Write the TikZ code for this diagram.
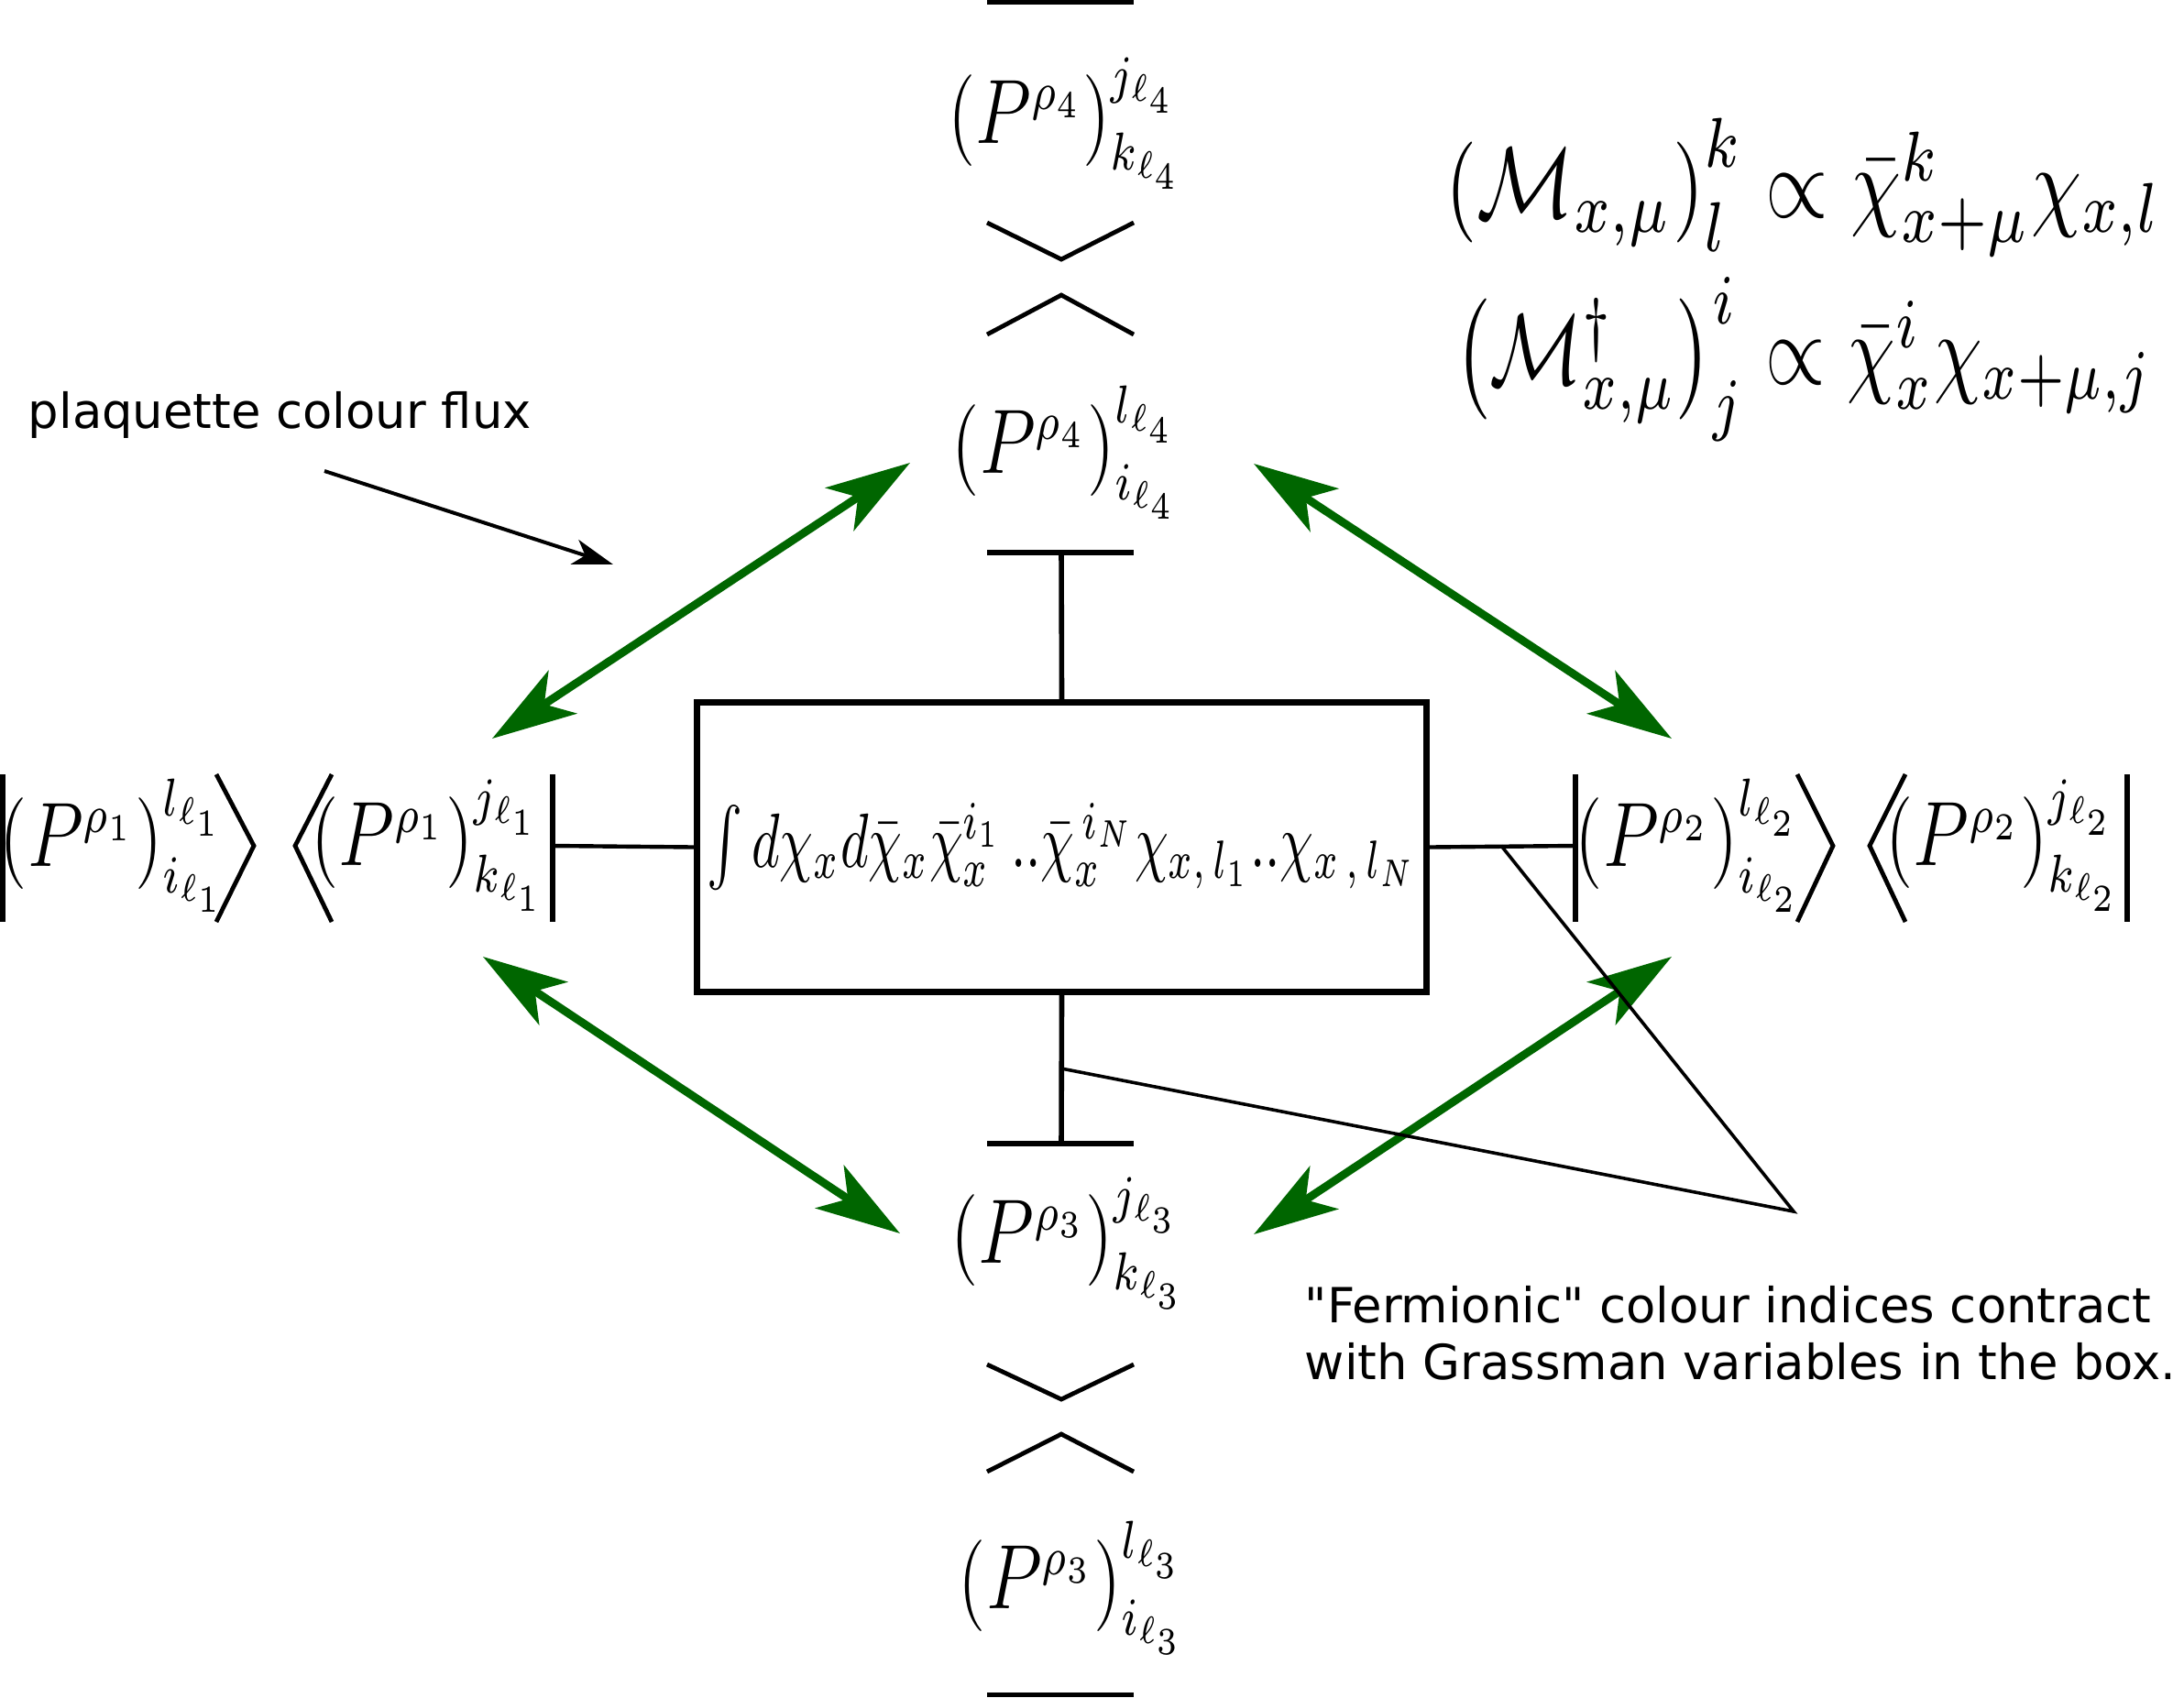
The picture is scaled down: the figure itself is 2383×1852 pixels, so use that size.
\documentclass[tikz,border=0pt]{standalone}
\usepackage{fontspec}
\usepackage{amsmath}
\usetikzlibrary{arrows.meta}
\newfontfamily\dejavu{DejaVu Sans}
\definecolor{fluxgreen}{RGB}{0,102,0}
\DeclareMathSizes{12}{12}{7}{5}
\newcommand{\PP}[3]{\scalebox{1.65}[2.08]{\fontsize{12}{14}\selectfont
  $\left(P^{\rho_{#1}}\right)^{#2_{\ell_{#1}}}_{#3_{\ell_{#1}}}$}}
\begin{document}
\begin{tikzpicture}[x=0.25pt,y=-0.25pt,
  lbl/.style={inner sep=0pt},
  eqn/.style={inner sep=0pt},
  barline/.style={line width=1.4pt},
  hstub/.style={line width=1.1pt},
  chev/.style={line width=1.2pt},
  thinline/.style={line width=0.9pt},
  flux/.style={line width=2.2pt, draw=fluxgreen,
     {Stealth[length=23pt,width=14pt,inset=6pt,fill=fluxgreen]}-{Stealth[length=23pt,width=14pt,inset=6pt,fill=fluxgreen]}},
  note/.style={font=\dejavu\fontsize{13.2}{15.6}\selectfont, anchor=west, align=left, inner sep=0pt}]
\useasboundingbox (0,0) rectangle (2383,1852);

% central box
\node[draw, line width=1.6pt, minimum width=199pt, minimum height=79pt, inner sep=0pt] (box) at (1158.5,924.5)
  {\scalebox{1.47}[2.1]{$\int d\chi_x d\bar\chi_x\bar\chi_x^{i_1}\,..\bar\chi_x^{\,i_N}\chi_{x,\,l_1}..\chi_{x\,,\,l_N}$}};

% coordinates
\coordinate (tT) at (1158,603);
\coordinate (bT) at (1158,1248);
\coordinate (lT) at (603,923);
\coordinate (rT) at (1719,923);

% stubs with T-bars
\draw[barline] (box.north) -- (tT);
\draw[barline] (1077,603) -- (1237,603);
\draw[barline] (box.south) -- (bT);
\draw[barline] (1077,1248) -- (1237,1248);
\draw[hstub] (box.west) -- (lT);
\draw[barline] (603,845) -- (603,1006);
\draw[hstub] (box.east) -- (rT);
\draw[barline] (1719,845) -- (1719,1006);

% top column
\node[lbl] (t1) at (1163,494) {\PP{4}{l}{i}};
\draw[chev] (1077,365) -- (1158,322) -- (1237,365);
\draw[chev] (1077,243) -- (1158,283) -- (1237,243);
\node[lbl] (t2) at (1163,135) {\PP{4}{j}{k}};
\draw[barline] (1077,2.5) -- (1237,2.5);

% bottom column
\node[lbl] (b1) at (1166,1357) {\PP{3}{j}{k}};
\draw[chev] (1077,1489) -- (1158,1527) -- (1237,1489);
\draw[chev] (1077,1606) -- (1158,1565) -- (1237,1606);
\node[lbl] (b2) at (1170,1733) {\PP{3}{l}{i}};
\draw[barline] (1077,1849.5) -- (1237,1849.5);

% left row
\node[lbl] (l1) at (468,923) {\PP{1}{j}{k}};
\draw[chev] (362,845) -- (322,923) -- (362,1006);
\draw[chev] (236,845) -- (277,923) -- (236,1006);
\node[lbl] (l2) at (124,923) {\PP{1}{l}{i}};
\draw[barline] (3,845) -- (3,1006);

% right row
\node[lbl] (r1) at (1843,923) {\PP{2}{l}{i}};
\draw[chev] (1961,845) -- (2000,923) -- (1961,1006);
\draw[chev] (2079,845) -- (2040,923) -- (2079,1006);
\node[lbl] (r2) at (2186,923) {\PP{2}{j}{k}};
\draw[barline] (2321,845) -- (2321,1006);

% green flux arrows
\coordinate (g1a) at (537,806);  \coordinate (g1b) at (993,505);
\coordinate (g2a) at (1368,506); \coordinate (g2b) at (1824,806);
\coordinate (g3a) at (527,1044); \coordinate (g3b) at (982,1346);
\coordinate (g4a) at (1368,1347);\coordinate (g4b) at (1824,1044);
\draw[flux] (g1a) -- (g1b);
\draw[flux] (g2a) -- (g2b);
\draw[flux] (g3a) -- (g3b);
\draw[flux] (g4a) -- (g4b);

% equations
\node[eqn] (e1) at (1968,204) {\scalebox{2.2}[2.75]{$\left(\mathcal{M}_{x,\mu}\right)^k_l \propto \bar\chi^k_{x+\mu}\chi_{x,l}$}};
\node[eqn] (e2) at (1968,392) {\scalebox{2.1}[2.75]{$\left(\mathcal{M}^\dagger_{x,\mu}\right)^i_j \propto \bar\chi^i_x\chi_{x+\mu,j}$}};

% annotations
\node[note] (pl) at (30,453) {plaquette colour flux};
\coordinate (pa) at (354,514);
\coordinate (pb) at (669,616);
\draw[line width=1pt, -{Stealth[length=11pt,width=7pt,inset=3pt]}] (pa) -- (pb);

\node[note] (fe) at (1423,1455) {"Fermionic" colour indices contract\\with Grassman variables in the box.};
\coordinate (fm) at (1957,1322);
\coordinate (fs) at (1158,1166);
\coordinate (fr) at (1638,923);
\draw[thinline] (fs) -- (fm) -- (fr);
\end{tikzpicture}
\end{document}
